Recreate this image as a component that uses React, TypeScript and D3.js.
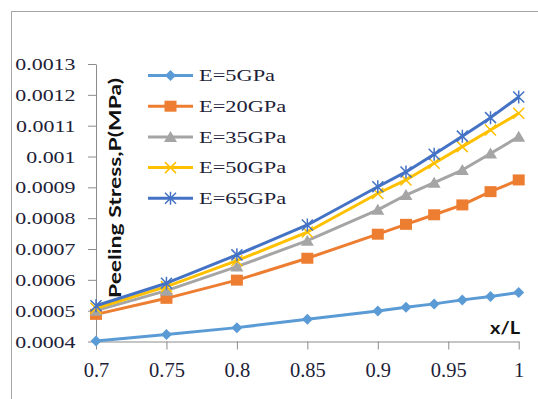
import { useRef, useEffect } from 'react';
import * as d3 from 'd3';

const xValues = [0.7, 0.75, 0.8, 0.85, 0.9, 0.92, 0.94, 0.96, 0.98, 1];
const e5 = [0.000402, 0.000423, 0.000445, 0.000472, 0.000499, 0.000511, 0.000522, 0.000535, 0.000546, 0.000559];
const e20 = [0.000488, 0.00054, 0.000599, 0.00067, 0.000748, 0.00078, 0.000811, 0.000843, 0.000886, 0.000924];
const e35 = [0.0005, 0.000565, 0.000643, 0.000727, 0.000827, 0.000875, 0.000915, 0.000956, 0.00101, 0.001064];
const e50 = [0.000508, 0.000578, 0.000662, 0.000755, 0.00088, 0.000924, 0.000978, 0.001032, 0.001086, 0.00114];
const e65 = [0.000516, 0.000589, 0.000681, 0.000778, 0.000902, 0.00095, 0.001007, 0.001066, 0.001126, 0.001193];
const seriesNames = ['E=5GPa', 'E=20GPa', 'E=35GPa', 'E=50GPa', 'E=65GPa'];
const xTicks = [0.7, 0.75, 0.8, 0.85, 0.9, 0.95, 1];
const yTicks = [0.0004, 0.0005, 0.0006, 0.0007, 0.0008, 0.0009, 0.001, 0.0011, 0.0012, 0.0013];

const colors = ['#5b9bd5', '#ed7d31', '#a5a5a5', '#ffc000', '#4472c4'];
const markers = ['diamond', 'square', 'triangle', 'x', 'star'];

function markerPath(kind: string) {
  switch (kind) {
    case 'diamond': return 'M0,-5.5L5.5,0L0,5.5L-5.5,0Z';
    case 'square': return 'M-6,-5.5h12v11h-12Z';
    case 'triangle': return 'M0,-6L6.5,5L-6.5,5Z';
    case 'x': return 'M-5.5,-5.5L5.5,5.5M5.5,-5.5L-5.5,5.5';
    default: return 'M-5.5,-5.5L5.5,5.5M5.5,-5.5L-5.5,5.5M0,-6.5V6.5';
  }
}

export default function App() {
  const svgRef = useRef<SVGSVGElement>(null);

  useEffect(() => {
    if (!svgRef.current) return;
    const svg = d3.select(svgRef.current);
    svg.selectAll('*').remove();

    const textColor = '#1e1e38';
    const axisColor = '#8c8c8c';
    const serif = '"Liberation Serif", "Times New Roman", serif';
    const sans = 'Lato, "Open Sans", sans-serif';

    const x = d3.scaleLinear().domain([0.7, 1]).range([96, 518.7]);
    const y = d3.scaleLinear().domain([0.0004, 0.0013]).range([341.5, 64]);

    // frame
    svg.append('rect')
      .attr('x', 11.5).attr('y', 11.5)
      .attr('width', 560).attr('height', 420)
      .attr('fill', 'white')
      .attr('stroke', '#a6a6a6');

    // X axis
    const gx = svg.append('g')
      .attr('transform', `translate(0,${y(0.0004)})`)
      .call(d3.axisBottom(x).tickValues(xTicks).tickSize(8).tickSizeOuter(0).tickFormat(d => String(d)));
    gx.select('.domain').attr('stroke', axisColor);
    gx.selectAll('.tick line').attr('stroke', axisColor);
    gx.selectAll('.tick text')
      .attr('y', 0).attr('dy', 0)
      .attr('transform', 'translate(0,35)')
      .attr('fill', textColor)
      .attr('font-family', serif)
      .attr('font-size', 20.5);

    // Y axis
    const gy = svg.append('g')
      .attr('transform', `translate(${x(0.7)},0)`)
      .call(d3.axisLeft(y).tickValues(yTicks).tickSize(8).tickSizeOuter(0).tickFormat(d => String(+d)));
    gy.select('.domain').attr('stroke', axisColor);
    gy.selectAll('.tick line').attr('stroke', axisColor);
    gy.selectAll('.tick text')
      .attr('x', 0).attr('dy', 0)
      .attr('transform', 'translate(-20.5,5.5) scale(1.37,1)')
      .attr('fill', textColor)
      .attr('font-family', serif)
      .attr('font-size', 16);

    const all = [e5, e20, e35, e50, e65];
    const line = d3.line<number>()
      .x((_, i) => x(xValues[i]))
      .y(d => y(d));

    all.forEach((vals, si) => {
      svg.append('path')
        .datum(vals)
        .attr('d', line)
        .attr('fill', 'none')
        .attr('stroke', colors[si])
        .attr('stroke-width', 3)
        .attr('stroke-linejoin', 'round');
      const filled = si < 3;
      svg.append('g').selectAll('path')
        .data(vals)
        .enter()
        .append('path')
        .attr('transform', (d, i) => `translate(${x(xValues[i])},${y(d)})`)
        .attr('d', markerPath(markers[si]))
        .attr('fill', filled ? colors[si] : 'none')
        .attr('stroke', colors[si])
        .attr('stroke-width', filled ? 0 : 1.5);
    });

    // legend
    const legend = svg.append('g');
    seriesNames.forEach((name, i) => {
      const ly = 75.5 + i * 30.7;
      legend.append('line')
        .attr('x1', 148).attr('x2', 193)
        .attr('y1', ly).attr('y2', ly)
        .attr('stroke', colors[i])
        .attr('stroke-width', 3);
      const filled = i < 3;
      legend.append('path')
        .attr('transform', `translate(170.5,${ly})`)
        .attr('d', markerPath(markers[i]))
        .attr('fill', filled ? colors[i] : 'none')
        .attr('stroke', colors[i])
        .attr('stroke-width', filled ? 0 : 1.5);
      legend.append('text')
        .attr('transform', `translate(199,${ly + 5.7}) scale(1.4,1)`)
        .attr('fill', textColor)
        .attr('font-family', serif)
        .attr('font-size', 16)
        .text(name);
    });

    // axis titles
    svg.append('text')
      .attr('transform', 'translate(120.5,188) rotate(-90)')
      .attr('text-anchor', 'middle')
      .attr('font-family', sans)
      .attr('font-weight', 700)
      .attr('font-size', 17.5)
      .attr('textLength', 220)
      .attr('lengthAdjust', 'spacingAndGlyphs')
      .attr('fill', '#111')
      .text('Peeling Stress,P(MPa)');

    svg.append('text')
      .attr('x', 490).attr('y', 334)
      .attr('font-family', sans)
      .attr('font-weight', 700)
      .attr('font-size', 16.5)
      .attr('textLength', 30)
      .attr('lengthAdjust', 'spacingAndGlyphs')
      .attr('fill', '#111')
      .text('x/L');
  }, []);

  return (
    <svg
      ref={svgRef}
      width={538}
      height={399}
      style={{ position: 'absolute', left: 0, top: 0, background: 'white' }}
    />
  );
}
